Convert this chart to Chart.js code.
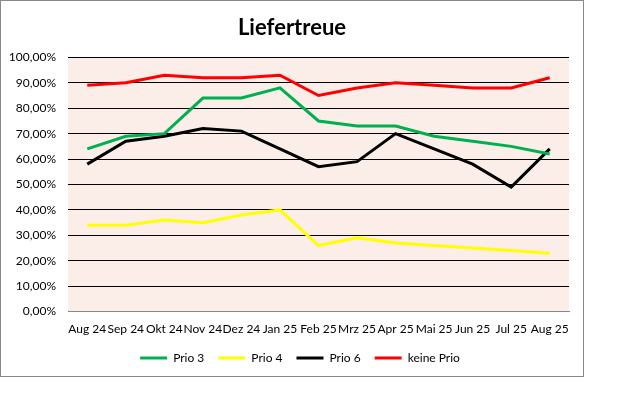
<!DOCTYPE html>
<html>

<head>
  <meta charset="utf-8" />
  <style>
    body { margin: 0; background: #fff; }
    #box { position: absolute; left: 0; top: 0; width: 582px; height: 375px; border: 1px solid #888; }
  </style>
</head>

<body>
  <div id="box"><canvas id="chart" width="582" height="375"></canvas></div>

  <script src="https://cdn.jsdelivr.net/npm/chart.js"></script>
  <script>
    // months
    var months = ['Aug 24', 'Sep 24', 'Okt 24', 'Nov 24', 'Dez 24', 'Jan 25', 'Feb 25',
      'Mrz 25', 'Apr 25', 'Mai 25', 'Jun 25', 'Jul 25', 'Aug 25'];

    // values in %
    var prio3 = [64, 69, 70, 84, 84, 88, 75, 73, 73, 69, 67, 65, 62];
    var prio4 = [34, 34, 36, 35, 38, 40, 26, 29, 27, 26, 25, 24, 23];
    var prio6 = [58, 67, 69, 72, 71, 64, 57, 59, 70, 64, 58, 49, 64];
    var keinePrio = [89, 90, 93, 92, 92, 93, 85, 88, 90, 89, 88, 88, 92];

    var yTicks = [0, 10, 20, 30, 40, 50, 60, 70, 80, 90, 100];

    var fontFam = 'Lato, "Open Sans", sans-serif';
    Chart.defaults.font.family = fontFam;
    Chart.defaults.color = '#000';

    // pink plot area
    var plotBg = {
      id: 'plotBg',
      beforeDraw: function (chart) {
        var a = chart.chartArea;
        var c = chart.ctx;
        c.save();
        c.fillStyle = '#fbede8';
        c.fillRect(a.left, a.top, a.right - a.left, a.bottom - a.top);
        c.restore();
      }
    };

    // title centred on whole box, legend a bit right of centre like excel
    var nudge = {
      id: 'nudge',
      afterLayout: function (chart) {
        if (chart.titleBlock) chart.titleBlock.right = chart.width;
        if (chart.legend) chart.legend.left += 30;
      }
    };

    function ds(label, data, color) {
      return {
        label: label,
        data: data,
        borderColor: color,
        backgroundColor: color,
        borderWidth: 3,
        pointRadius: 0,
        tension: 0,
        fill: false
      };
    }

    new Chart(document.getElementById('chart'), {
      type: 'line',
      data: {
        labels: months,
        datasets: [
          ds('Prio 3', prio3, '#00b050'),
          ds('Prio 4', prio4, '#ffff00'),
          ds('Prio 6', prio6, '#000000'),
          ds('keine Prio', keinePrio, '#ff0000')
        ]
      },
      options: {
        responsive: false,
        animation: false,
        layout: { padding: { left: 0, right: 14, top: 0, bottom: 2 } },
        plugins: {
          title: {
            display: true,
            text: 'Liefertreue',
            font: { size: 22, weight: 'bold' },
            color: '#000',
            padding: { top: 14, bottom: 16 }
          },
          legend: {
            position: 'bottom',
            labels: {
              boxWidth: 27,
              boxHeight: 3,
              padding: 14,
              font: { size: 12 },
              generateLabels: function (chart) {
                return chart.data.datasets.map(function (d, i) {
                  return {
                    text: d.label,
                    fillStyle: d.borderColor,
                    strokeStyle: d.borderColor,
                    lineWidth: 0,
                    datasetIndex: i
                  };
                });
              }
            }
          },
          tooltip: { enabled: false }
        },
        scales: {
          x: {
            offset: true,
            grid: { display: false },
            border: { display: true, color: '#888' },
            ticks: { autoSkip: false, maxRotation: 0, minRotation: 0, font: { size: 12 }, padding: 2 }
          },
          y: {
            min: 0,
            max: 100,
            afterFit: function (s) { s.width = 67; },
            afterBuildTicks: function (s) {
              s.ticks = yTicks.map(function (v) { return { value: v }; });
            },
            border: { display: false },
            grid: {
              drawTicks: false,
              color: function (c) { return c.tick.value === 0 ? '#888' : '#000'; },
              lineWidth: 1
            },
            ticks: {
              padding: 12,
              font: { size: 12 },
              callback: function (v) { return v.toFixed(2).replace('.', ',') + '%'; }
            }
          }
        }
      },
      plugins: [plotBg, nudge]
    });
  </script>
</body>

</html>
